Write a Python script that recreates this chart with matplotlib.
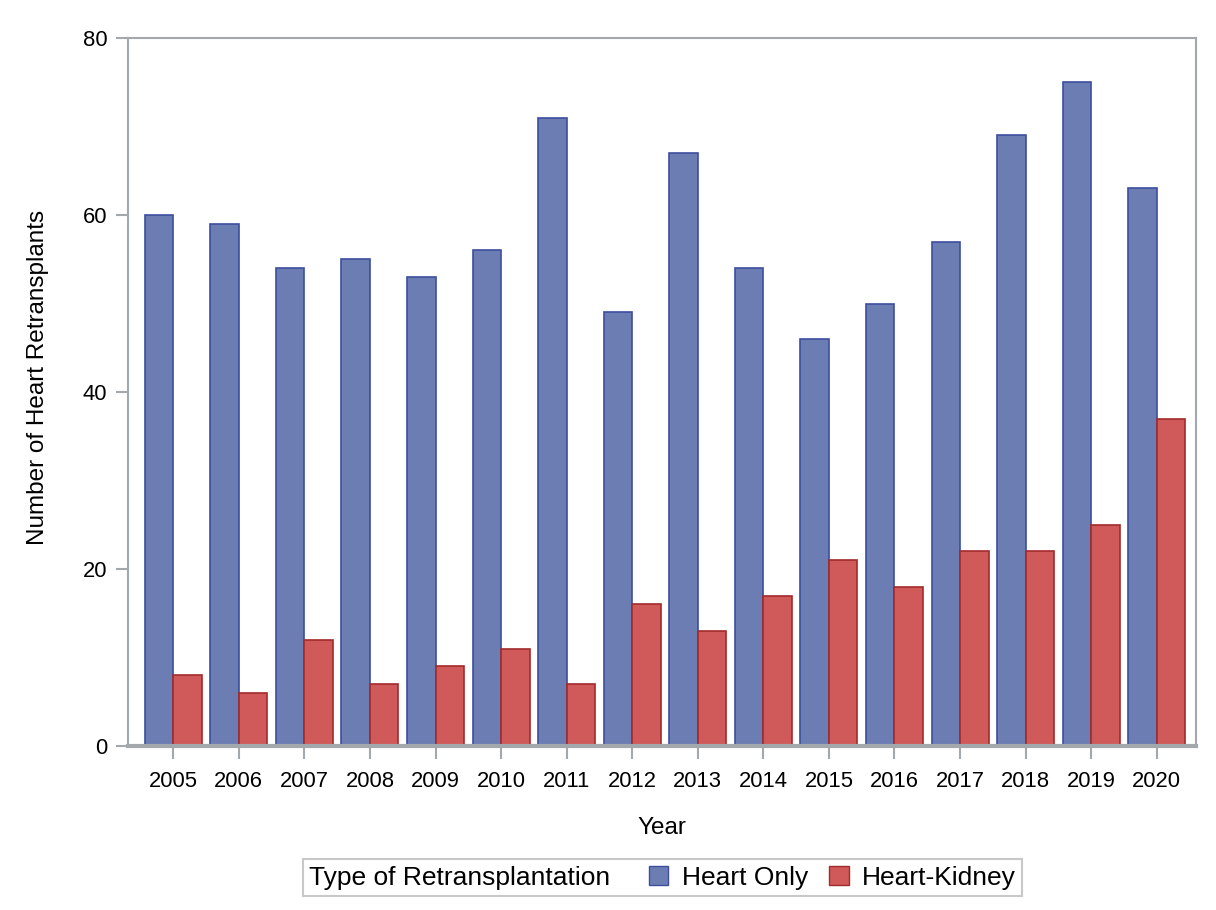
import numpy as np
import matplotlib.pyplot as plt
from matplotlib.patches import Patch
from matplotlib.offsetbox import HPacker

plt.rcParams['font.family'] = ['Liberation Sans', 'DejaVu Sans']

years = ['2005', '2006', '2007', '2008', '2009', '2010', '2011', '2012',
         '2013', '2014', '2015', '2016', '2017', '2018', '2019', '2020']
heart_only = [60, 59, 54, 55, 53, 56, 71, 49, 67, 54, 46, 50, 57, 69, 75, 63]
heart_kidney = [8, 6, 12, 7, 9, 11, 7, 16, 13, 17, 21, 18, 22, 22, 25, 37]

blue_face, blue_edge = '#6C7DB4', '#3C4E9E'
red_face, red_edge = '#D05A5A', '#A32A2A'
spine = '#A3A8AC'

fig = plt.figure(figsize=(12.16, 9.10), dpi=100)
ax = fig.add_axes([0.1053, 0.1802, 0.8783, 0.778])

x = np.arange(len(years))
w = 0.435
ax.bar(x - w / 2, heart_only, w, color=blue_face, edgecolor=blue_edge, linewidth=1.2)
ax.bar(x + w / 2, heart_kidney, w, color=red_face, edgecolor=red_edge, linewidth=1.2)

ax.set_xlim(-0.69, 15.6)
ax.set_ylim(0, 80)
ax.set_yticks([0, 20, 40, 60, 80])
ax.set_xticks(x)
ax.set_xticklabels(years)

for s in ['left', 'right', 'top']:
    ax.spines[s].set_color(spine)
    ax.spines[s].set_linewidth(1.5)
ax.spines['bottom'].set_color(spine)
ax.spines['bottom'].set_linewidth(3)

ax.tick_params(axis='both', labelsize=15.8, color=spine, width=1.5, length=9)
ax.tick_params(axis='x', pad=9)
ax.tick_params(axis='y', pad=6)

ax.set_xlabel('Year', fontsize=17.5, labelpad=18)
ax.set_ylabel('Number of Heart Retransplants', fontsize=17.5)
ax.yaxis.set_label_coords(-0.074, 0.52)

handles = [Patch(facecolor=blue_face, edgecolor=blue_edge),
           Patch(facecolor=red_face, edgecolor=red_edge)]
labels = ['Heart Only', 'Heart-Kidney']
fs = 19
leg = fig.legend(handles, labels, loc='center', bbox_to_anchor=(0.5448, 0.0357),
                 ncol=2, fontsize=fs, frameon=True, fancybox=False,
                 title='Type of Retransplantation', title_fontsize=fs,
                 handlelength=0.75, handleheight=0.75, handletextpad=0.5,
                 columnspacing=0.8, borderpad=0.2)
# put the legend title on the same row as the entries
box = HPacker(pad=0.25 * fs, sep=1.45 * fs, align='center',
              children=[leg._legend_title_box, leg._legend_handle_box])
box.set_figure(fig)
box.set_offset(leg._findoffset)
leg._legend_box = box
leg.get_frame().set_edgecolor('#BBBBBB')
leg.get_frame().set_linewidth(1.5)

plt.savefig('out.png', dpi=100)
